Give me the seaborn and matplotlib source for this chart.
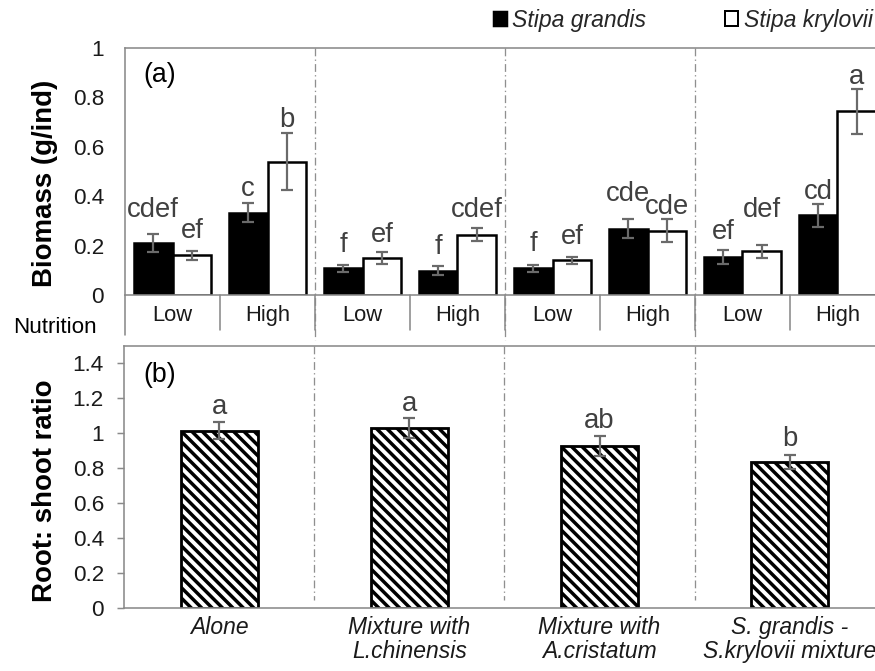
import matplotlib
matplotlib.use("Agg")
import matplotlib.pyplot as plt
from matplotlib.patches import Patch
import seaborn as sns
import pandas as pd
import numpy as np

# ---------------- data ----------------
groups = ["Alone", "Mixture with\nL.chinensis", "Mixture with\nA.cristatum",
          "S. grandis -\nS.krylovii mixture"]
nutrition = ["Low", "High"]
species = ["Stipa grandis", "Stipa krylovii"]

sg_mean = [0.21, 0.333, 0.109, 0.099, 0.109, 0.269, 0.155, 0.322]
sg_err = [0.035, 0.039, 0.014, 0.019, 0.014, 0.039, 0.029, 0.048]
sg_letters = ["cdef", "c", "f", "f", "f", "cde", "ef", "cd"]

sk_mean = [0.16, 0.54, 0.15, 0.244, 0.14, 0.26, 0.177, 0.744]
sk_err = [0.018, 0.115, 0.024, 0.026, 0.013, 0.046, 0.026, 0.091]
sk_letters = ["ef", "b", "ef", "cdef", "ef", "cde", "def", "a"]

rs_mean = [1.015, 1.03, 0.925, 0.836]
rs_err = [0.05, 0.06, 0.058, 0.04]
rs_letters = ["a", "a", "ab", "b"]

# ---------------- style (pixel-based layout) ----------------
DPI = 125
W, H = 875, 671
PT = 72.0 / DPI  # points per pixel

sg_lift_px = [17, 7, 13, 12, 14, 18, 11, 5]
sk_lift_px = [13, 6, 10, 11, 13, 5, 28, 5]
rs_lift_px = [8, 7, 8, 9]

sns.set_theme(style="white")
plt.rcParams["font.family"] = ["Liberation Sans", "DejaVu Sans"]
plt.rcParams["hatch.linewidth"] = 2.0

SPINE = "#8a8a8a"
LETTER = "#404040"
ERR = "#6a6a6a"

fig = plt.figure(figsize=(W / DPI, H / DPI), dpi=DPI)

def axes_px(left, top, right, bottom):
    return fig.add_axes([left / W, 1 - bottom / H, (right - left) / W, (bottom - top) / H])

ax1 = axes_px(125, 48, 885, 295)
ax2 = axes_px(124, 346, 885, 607.7)

# ---------------- top panel ----------------
cats = [f"{g}|{n}" for g in range(len(groups)) for n in nutrition]
df = pd.DataFrame({
    "cat": cats * 2,
    "species": [species[0]] * len(cats) + [species[1]] * len(cats),
    "biomass": sg_mean + sk_mean,
})
sns.barplot(data=df, x="cat", y="biomass", hue="species", order=cats,
            hue_order=species, palette={species[0]: "black", species[1]: "white"},
            saturation=1, width=0.82, errorbar=None, edgecolor="black",
            linewidth=2.5 * PT, legend=False, ax=ax1)

for cont, errs, letters, lifts in zip(ax1.containers, [sg_err, sk_err],
                                      [sg_letters, sk_letters], [sg_lift_px, sk_lift_px]):
    for bar, e, lab, lift in zip(cont, errs, letters, lifts):
        xc = bar.get_x() + bar.get_width() / 2
        h = bar.get_height()
        ax1.errorbar(xc, h, yerr=e, fmt="none", ecolor=ERR, elinewidth=2.2 * PT,
                     capsize=3.2, capthick=2.2 * PT, zorder=5)
        ax1.annotate(lab, xy=(xc, h + e), xytext=(0, lift * PT), textcoords="offset points",
                     ha="center", va="baseline", fontsize=27.5 * PT, color=LETTER)

ax1.set_xlim(-0.5, len(cats) - 0.5)
ax1.set_ylim(0, 1)
ax1.set_yticks([0, 0.2, 0.4, 0.6, 0.8, 1.0])
ax1.set_yticklabels(["0", "0.2", "0.4", "0.6", "0.8", "1"])
ax1.set_xticks(range(len(cats)))
ax1.set_xticklabels([c.split("|")[1] for c in cats])
ax1.tick_params(axis="y", length=0, pad=21 * PT, labelsize=22.5 * PT, labelcolor="#1a1a1a")
ax1.tick_params(axis="x", length=0, pad=10 * PT, labelsize=22 * PT, labelcolor="#1a1a1a")
ax1.set_xlabel("")
ax1.set_ylabel("Biomass (g/ind)", fontsize=27.6 * PT, fontweight="bold", color="black")
ax1.yaxis.set_label_coords((57.5 - 125) / 760, (295 - 183.5) / 247)
for s in ["left", "top", "bottom", "right"]:
    ax1.spines[s].set_color(SPINE)
    ax1.spines[s].set_linewidth(1.6 * PT)

tr1 = ax1.get_xaxis_transform()
# category separators below axis
for xb in np.arange(-0.5, len(cats), 1.0):
    ybot = -40 / 247 if xb == -0.5 else -35 / 247
    ax1.plot([xb, xb], [0, ybot], transform=tr1, color=SPINE, lw=1.6 * PT, clip_on=False)
# group dividers (dash-dot)
for xb in [1.5, 3.5, 5.5]:
    ax1.plot([xb, xb], [1, -45 / 247], transform=tr1, color="#8f8f8f", lw=1.3 * PT,
             ls=(0, (6, 2.5, 1, 2.5)), clip_on=False, zorder=0)

ax1.text((143 - 125) / 760, (295 - 75) / 247, "(a)", transform=ax1.transAxes,
         ha="left", va="center", fontsize=26.7 * PT, color="black")
fig.text(55 / W, 1 - 327 / H, "Nutrition", ha="center", va="center",
         fontsize=22.4 * PT, color="black")

# ---------------- bottom panel ----------------
df2 = pd.DataFrame({"group": groups, "ratio": rs_mean})
sns.barplot(data=df2, x="group", y="ratio", order=groups, color="white", saturation=1,
            width=0.405, errorbar=None, edgecolor="black", linewidth=2.8 * PT,
            hatch="\\\\\\\\", ax=ax2)
for bar, e, lab, lift in zip(ax2.containers[0], rs_err, rs_letters, rs_lift_px):
    xc = bar.get_x() + bar.get_width() / 2
    h = bar.get_height()
    ax2.errorbar(xc, h, yerr=e, fmt="none", ecolor=ERR, elinewidth=2.2 * PT,
                 capsize=3.2, capthick=2.2 * PT, zorder=5)
    ax2.annotate(lab, xy=(xc, h + e), xytext=(0, lift * PT), textcoords="offset points",
                 ha="center", va="baseline", fontsize=27.5 * PT, color=LETTER)

ax2.set_xlim(-0.5, len(groups) - 0.5)
ax2.set_ylim(0, 1.5)
ax2.set_yticks([0, 0.2, 0.4, 0.6, 0.8, 1.0, 1.2, 1.4])
ax2.set_yticklabels(["0", "0.2", "0.4", "0.6", "0.8", "1", "1.2", "1.4"])
ax2.tick_params(axis="y", left=True, length=7 * PT, width=1.5 * PT, color=SPINE,
                pad=13 * PT, labelsize=22.5 * PT, labelcolor="#1a1a1a")
ax2.tick_params(axis="x", length=0, pad=8 * PT, labelsize=22.9 * PT, labelcolor="#1a1a1a")
for t in ax2.get_xticklabels():
    t.set_fontstyle("italic")
    t.set_linespacing(1.05)
ax2.set_xlabel("")
ax2.set_ylabel("Root: shoot ratio", fontsize=27.6 * PT, fontweight="bold", color="black")
ax2.yaxis.set_label_coords((57.5 - 124) / 761, (607.7 - 490.9) / 261.7)
for s in ["left", "top", "bottom", "right"]:
    ax2.spines[s].set_color(SPINE)
    ax2.spines[s].set_linewidth(1.6 * PT)

tr2 = ax2.get_xaxis_transform()
for xb in [0.5, 1.5, 2.5]:
    ax2.plot([xb, xb], [1, 8 / 261.7], transform=tr2, color="#8f8f8f", lw=1.3 * PT,
             ls=(0, (6, 2.5, 1, 2.5)), clip_on=False, zorder=0)
ax2.text((143 - 124) / 761, (607.7 - 375) / 261.7, "(b)", transform=ax2.transAxes,
         ha="left", va="center", fontsize=26.7 * PT, color="black")

# ---------------- legend ----------------
handles = [Patch(facecolor="black", edgecolor="black", linewidth=1.5 * PT),
           Patch(facecolor="white", edgecolor="black", linewidth=2.0 * PT)]
fig.legend(handles, species, ncol=2, loc="center", bbox_to_anchor=(683 / W, 1 - 20 / H),
           frameon=False, prop={"style": "italic", "size": 23 * PT},
           handlelength=0.6, handleheight=0.6, handletextpad=0.25, columnspacing=3.4,
           borderpad=0)

fig.savefig("out.png", dpi=DPI)
